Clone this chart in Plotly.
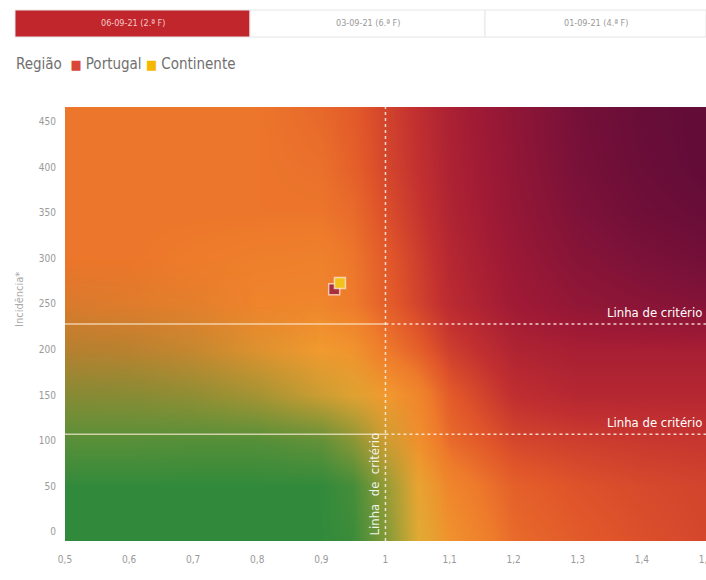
import plotly.graph_objects as go

# ---- data ----
tabs = ["06-09-21 (2.ª F)", "03-09-21 (6.ª F)", "01-09-21 (4.ª F)"]
regions = ["Portugal", "Continente"]
region_colors = ["#d9473b", "#f5b800"]
rt_values = [0.92, 0.929]
incidence_values = [266, 273]
criterion_incidence = [228, 107]
criterion_rt = 1.0

# background risk gradient: grid positions and levels
grid_x = [0.5, 0.6, 0.7, 0.8, 0.9, 0.95, 1.0, 1.05, 1.1, 1.2, 1.3, 1.4, 1.5]
grid_y = [-10, 50, 100, 150, 200, 250, 300, 350, 400, 466]
warm_level = [
    [0.05, 0.05, 0.05, 0.05, 0.05, 0.05, 0.03, 0.05, 0.25, 0.44, 0.50, 0.54, 0.57],
    [0.08, 0.08, 0.08, 0.08, 0.08, 0.08, 0.06, 0.12, 0.32, 0.48, 0.53, 0.56, 0.58],
    [0.14, 0.14, 0.13, 0.12, 0.12, 0.12, 0.14, 0.26, 0.44, 0.57, 0.60, 0.62, 0.63],
    [0.30, 0.28, 0.25, 0.20, 0.14, 0.12, 0.20, 0.32, 0.50, 0.66, 0.70, 0.70, 0.70],
    [0.37, 0.36, 0.31, 0.24, 0.20, 0.24, 0.38, 0.48, 0.60, 0.72, 0.75, 0.75, 0.75],
    [0.39, 0.38, 0.36, 0.33, 0.32, 0.38, 0.48, 0.58, 0.68, 0.78, 0.83, 0.86, 0.88],
    [0.40, 0.40, 0.38, 0.36, 0.35, 0.40, 0.50, 0.60, 0.70, 0.80, 0.87, 0.91, 0.94],
    [0.40, 0.40, 0.40, 0.40, 0.40, 0.44, 0.54, 0.63, 0.72, 0.82, 0.90, 0.95, 0.98],
    [0.40, 0.40, 0.40, 0.40, 0.42, 0.48, 0.57, 0.65, 0.73, 0.83, 0.92, 0.97, 1.00],
    [0.40, 0.40, 0.40, 0.40, 0.45, 0.50, 0.58, 0.66, 0.74, 0.84, 0.93, 0.98, 1.00],
]
green_level = [
    [1.00, 1.00, 1.00, 1.00, 1.00, 0.95, 0.60, 0.10, 0, 0, 0, 0, 0],
    [1.00, 1.00, 1.00, 1.00, 1.00, 0.90, 0.50, 0.05, 0, 0, 0, 0, 0],
    [0.80, 0.80, 0.82, 0.82, 0.75, 0.55, 0.20, 0.00, 0, 0, 0, 0, 0],
    [0.55, 0.55, 0.50, 0.40, 0.20, 0.10, 0.00, 0.00, 0, 0, 0, 0, 0],
    [0.30, 0.28, 0.22, 0.10, 0.00, 0.00, 0.00, 0.00, 0, 0, 0, 0, 0],
    [0.10, 0.08, 0.05, 0.00, 0.00, 0.00, 0.00, 0.00, 0, 0, 0, 0, 0],
    [0, 0, 0, 0, 0, 0, 0, 0, 0, 0, 0, 0, 0],
    [0, 0, 0, 0, 0, 0, 0, 0, 0, 0, 0, 0, 0],
    [0, 0, 0, 0, 0, 0, 0, 0, 0, 0, 0, 0, 0],
    [0, 0, 0, 0, 0, 0, 0, 0, 0, 0, 0, 0, 0],
]

FONT = "Liberation Sans Narrow, DejaVu Sans Condensed, Roboto Condensed, Open Sans, sans-serif"

warm_scale = [
    [0.0, "#f5b535"],
    [0.2, "#f19a2f"],
    [0.38, "#ee7b2b"],
    [0.52, "#e0552a"],
    [0.65, "#c23030"],
    [0.78, "#a01a35"],
    [0.9, "#7e1238"],
    [1.0, "#620c38"],
]
green_scale = [[0.0, "rgba(49,138,59,0)"], [1.0, "rgba(49,138,59,1)"]]

fig = go.Figure()
fig.add_trace(go.Heatmap(x=grid_x, y=grid_y, z=warm_level, zmin=0, zmax=1,
                         colorscale=warm_scale, zsmooth="best", showscale=False,
                         hoverinfo="skip"))
fig.add_trace(go.Heatmap(x=grid_x, y=grid_y, z=green_level, zmin=0, zmax=1,
                         colorscale=green_scale, zsmooth="best", showscale=False,
                         hoverinfo="skip"))

marker_fill = ["#a8303c", "#f2c21a"]
for name, fill, rx, iy in zip(regions, marker_fill, rt_values, incidence_values):
    fig.add_trace(go.Scatter(
        x=[rx], y=[iy], mode="markers", name=name, showlegend=False,
        marker=dict(symbol="square", size=11, color=fill,
                    line=dict(color="rgba(255,230,220,0.75)", width=1.5)),
    ))

shapes = []
# criterion lines
for yv in criterion_incidence:
    shapes.append(dict(type="line", xref="x", yref="y", x0=0.5, x1=criterion_rt,
                       y0=yv, y1=yv, line=dict(color="rgba(255,240,220,0.7)", width=1.5)))
    shapes.append(dict(type="line", xref="x", yref="y", x0=criterion_rt, x1=1.5,
                       y0=yv, y1=yv, line=dict(color="rgba(255,240,230,0.85)", width=1.5, dash="dot")))
shapes.append(dict(type="line", xref="x", yref="paper", x0=criterion_rt, x1=criterion_rt,
                   y0=0, y1=1, line=dict(color="rgba(255,240,230,0.85)", width=1.5, dash="dot")))

# tabs (paper coordinates in pixel fractions)
W, H = 706, 580
L, R, T, B = 65, 0, 107, 39
pw, ph = W - L - R, H - T - B


def px(xp):
    return (xp - L) / pw


def py(yp):
    return (H - B - yp) / ph


tab_edges = [15, 250, 485, 706]
for i in range(3):
    shapes.append(dict(type="rect", xref="paper", yref="paper",
                       x0=px(tab_edges[i]), x1=px(tab_edges[i + 1]), y0=py(37), y1=py(10),
                       fillcolor="#c0262c" if i == 0 else "white",
                       line=dict(color="#e6e6e6", width=1), layer="above"))

annotations = []
for i, t in enumerate(tabs):
    annotations.append(dict(xref="paper", yref="paper",
                            x=px((tab_edges[i] + tab_edges[i + 1]) / 2), y=py(23.5),
                            text=t, showarrow=False, xanchor="center", yanchor="middle",
                            font=dict(family=FONT, size=9,
                                      color="#f6c9c6" if i == 0 else "#999999")))

legend_text = ("Região&nbsp;&nbsp;<span style='color:%s;font-size:13px'>■</span> Portugal "
               "<span style='color:%s;font-size:13px'>■</span> Continente") % (region_colors[0], region_colors[1])
annotations.append(dict(xref="paper", yref="paper", x=px(14), y=py(64), text=legend_text,
                        showarrow=False, xanchor="left", yanchor="middle",
                        font=dict(family=FONT, size=15, color="#707070")))

annotations.append(dict(xref="paper", yref="paper", x=px(19), y=py(300), text="Incidência*",
                        textangle=-90, showarrow=False, xanchor="center", yanchor="middle",
                        font=dict(family=FONT, size=11, color="#aaaaaa")))

for yv in criterion_incidence:
    annotations.append(dict(xref="paper", yref="y", x=px(704), y=yv, text="Linha de critério",
                            showarrow=False, xanchor="right", yanchor="bottom", yshift=2,
                            font=dict(family=FONT, size=13, color="white")))
annotations.append(dict(xref="x", yref="paper", x=criterion_rt, y=py(537),
                        text="Linha  de  critério",
                        textangle=-90, showarrow=False, xanchor="right", yanchor="bottom",
                        xshift=-1,
                        font=dict(family=FONT, size=13, color="rgba(255,255,255,0.9)")))

fig.update_layout(
    width=W, height=H,
    margin=dict(l=L, r=R, t=T, b=B, autoexpand=False),
    paper_bgcolor="white", plot_bgcolor="white",
    separators=", ",
    shapes=shapes, annotations=annotations,
    showlegend=False,
    font=dict(family=FONT, color="#999999"),
    xaxis=dict(range=[0.5, 1.5001], tick0=0.5, dtick=0.1, showgrid=False, zeroline=False,
               ticks="outside", ticklen=9, tickcolor="rgba(0,0,0,0)",
               ticklabeloverflow="allow", automargin=False,
               tickfont=dict(family=FONT, size=10, color="#999999"), showline=False,
               fixedrange=True),
    yaxis=dict(range=[-10, 466], tick0=0, dtick=50, showgrid=False, zeroline=False,
               ticks="outside", ticklen=6, tickcolor="rgba(0,0,0,0)", automargin=False,
               tickfont=dict(family=FONT, size=10, color="#999999"), showline=False,
               fixedrange=True),
)

fig.write_html("out.html", config={"displayModeBar": False},
               post_script="document.body.style.margin='0';document.body.style.overflow='hidden';")
